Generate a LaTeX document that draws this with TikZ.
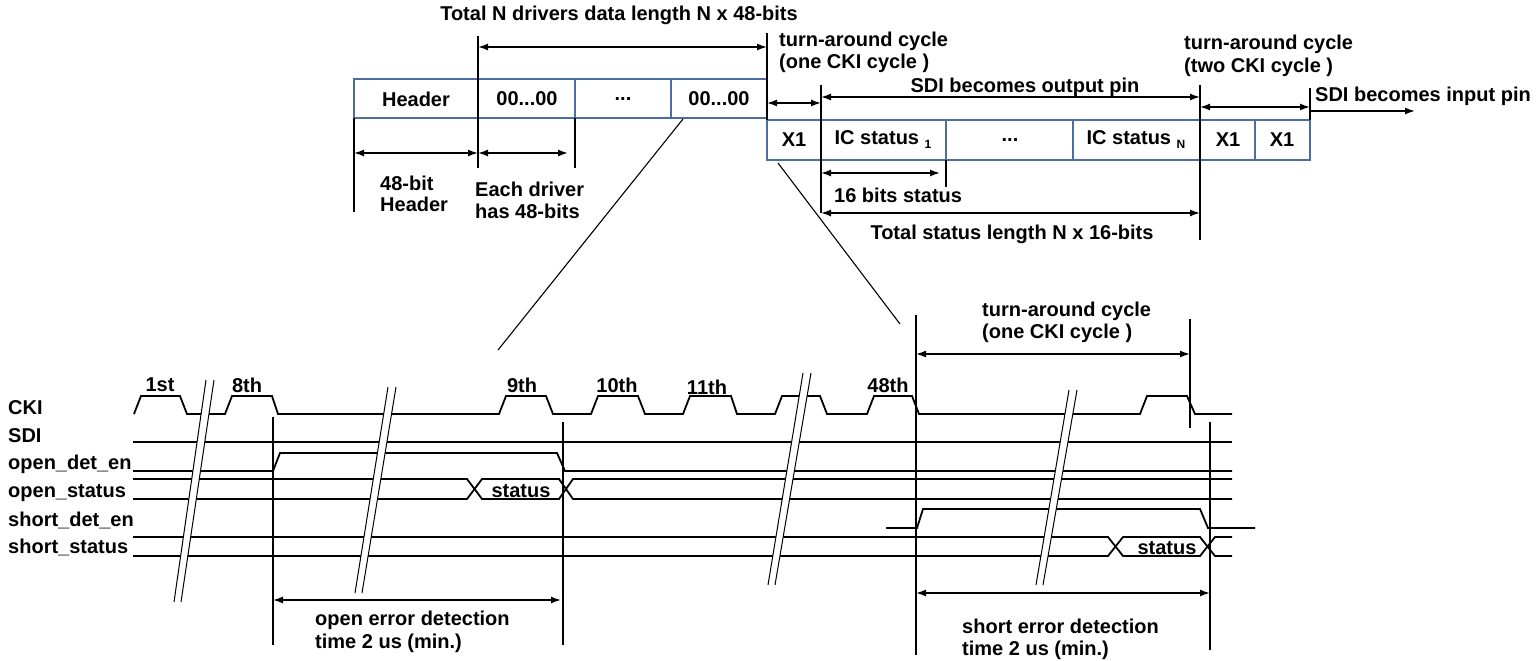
\documentclass[tikz,border=0pt]{standalone}
\usepackage{fontspec}
\setmainfont{Liberation Sans}
\usetikzlibrary{arrows.meta}
\definecolor{cellblue}{RGB}{74,110,160}
\tikzset{
  wire/.style={line width=1.8pt, line join=miter},
  vline/.style={line width=1.8pt},
  thinline/.style={line width=1.1pt},
  cellbox/.style={draw=cellblue, line width=1.3pt},
  dimarrow/.style={line width=1.5pt, {Latex[length=10pt,width=7pt]}-{Latex[length=10pt,width=7pt]}},
  onearrow/.style={line width=1.5pt, -{Latex[length=10pt,width=7pt]}},
  lbl/.style={font=\bfseries\fontsize{20}{22}\selectfont, inner sep=0pt},
  brkline/.style={line width=1pt},
}
\newcommand{\subsc}[1]{\raisebox{-4pt}{\fontsize{12}{12}\selectfont #1}}
\begin{document}
\begin{tikzpicture}[x=1pt,y=-1pt]
\useasboundingbox (0,0) rectangle (1540,661);

% ---------------- top frame ----------------
\node[lbl] (title) at (619,15) {Total N drivers data length N x 48-bits};

\draw[cellbox] (354,79) rectangle (478,118);
\draw[cellbox] (478,79) rectangle (575,118);
\draw[cellbox] (575,79) rectangle (671,118);
\draw[cellbox] (671,79) rectangle (767,118);
\node[lbl] (c1) at (416,99) {Header};
\node[lbl] (c2) at (527,99) {00...00};
\node[lbl] (c3) at (623,99) {...};
\node[lbl] (c4) at (719,99) {00...00};

\draw[cellbox] (767,120) rectangle (821,160);
\draw[cellbox] (821,120) rectangle (946,160);
\draw[cellbox] (946,120) rectangle (1073,160);
\draw[cellbox] (1073,120) rectangle (1200,160);
\draw[cellbox] (1200,120) rectangle (1255,160);
\draw[cellbox] (1255,120) rectangle (1310,160);
\node[lbl] (d1) at (794,140) {X1};
\node[lbl] (d2) at (883,140) {IC status \subsc{1}};
\node[lbl] (d3) at (1010,140) {...};
\node[lbl] (d4) at (1136,140) {IC status \subsc{N}};
\node[lbl] (d5) at (1228,140) {X1};
\node[lbl] (d6) at (1282,140) {X1};

% vertical guide lines (top)
\coordinate (v354a) at (354,118); \coordinate (v354b) at (354,212);
\coordinate (v478a) at (478,36);  \coordinate (v478b) at (478,168);
\coordinate (v575a) at (575,118); \coordinate (v575b) at (575,168);
\coordinate (v767a) at (767,33);  \coordinate (v767b) at (767,120);
\coordinate (v821a) at (821,85);  \coordinate (v821b) at (821,213);
\coordinate (v946a) at (946,160); \coordinate (v946b) at (946,187);
\coordinate (v1200a) at (1200,85); \coordinate (v1200b) at (1200,240);
\coordinate (v1310a) at (1310,88); \coordinate (v1310b) at (1310,120);
\foreach \a/\b in {v354a/v354b,v478a/v478b,v575a/v575b,v767a/v767b,v821a/v821b,v946a/v946b,v1200a/v1200b,v1310a/v1310b}
  \draw[vline] (\a) -- (\b);

% dimension arrows (top)
\coordinate (t1a) at (478,47);  \coordinate (t1b) at (767,47);
\coordinate (t2a) at (354,153); \coordinate (t2b) at (478,153);
\coordinate (t3a) at (478,153); \coordinate (t3b) at (568,153);
\coordinate (t4a) at (767,103); \coordinate (t4b) at (821,103);
\coordinate (t5a) at (821,97);  \coordinate (t5b) at (1200,97);
\coordinate (t6a) at (1200,107); \coordinate (t6b) at (1310,107);
\coordinate (t7a) at (1310,111); \coordinate (t7b) at (1415,111);
\coordinate (t8a) at (821,173); \coordinate (t8b) at (940,173);
\coordinate (t9a) at (821,213); \coordinate (t9b) at (1200,213);
\foreach \a/\b in {t1a/t1b,t2a/t2b,t3a/t3b,t4a/t4b,t5a/t5b,t6a/t6b,t8a/t8b,t9a/t9b}
  \draw[dimarrow] (\a) -- (\b);
\draw[onearrow] (t7a) -- (t7b);

% top labels
\node[lbl, anchor=west] (hb1) at (380,183) {48-bit};
\node[lbl, anchor=west] (hb2) at (380,204) {Header};
\node[lbl, anchor=west] (ed1) at (475,189) {Each driver};
\node[lbl, anchor=west] (ed2) at (475,211) {has 48-bits};
\node[lbl, anchor=west] (ta1) at (779,41) {turn-around cycle};
\node[lbl, anchor=west] (ta2) at (779,63) {(one CKI cycle )};
\node[lbl, anchor=west] (tb1) at (1184,44) {turn-around cycle};
\node[lbl, anchor=west] (tb2) at (1184,67) {(two CKI cycle )};
\node[lbl] (sdo) at (1025,87) {SDI becomes output pin};
\node[lbl, anchor=west] (sdi) at (1315,96) {SDI becomes input pin};
\node[lbl, anchor=west] (b16) at (834,195) {16 bits status};
\node[lbl] (tsl) at (1012,234) {Total status length N x 16-bits};

% zoom diagonals
\coordinate (za) at (683,119); \coordinate (zb) at (498,350);
\coordinate (zc) at (778,163); \coordinate (zd) at (900,324);
\draw[thinline] (za) -- (zb);
\draw[thinline] (zc) -- (zd);

% ---------------- waveforms ----------------
\node[lbl, anchor=base west] (lCKI) at (8,414) {CKI};
\node[lbl, anchor=base west] (lSDI) at (8,442) {SDI};
\node[lbl, anchor=base west] (lODE) at (8,469) {open\_det\_en};
\node[lbl, anchor=base west] (lOST) at (8,497) {open\_status};
\node[lbl, anchor=base west] (lSDE) at (8,526) {short\_det\_en};
\node[lbl, anchor=base west] (lSST) at (8,553) {short\_status};

\node[lbl] (p1) at (160,385) {1st};
\node[lbl] (p8) at (247,385) {8th};
\node[lbl] (p9) at (522,385) {9th};
\node[lbl] (p10) at (617,385) {10th};
\node[lbl] (p11) at (707,387) {11th};
\node[lbl] (p48) at (888,385) {48th};

% CKI
\draw[wire] (134,414) -- (141,396) -- (180,396) -- (187,414) -- (225,414) -- (232,396) -- (272,396) -- (278,414)
  -- (499,414) -- (506,396) -- (546,396) -- (553,414)
  -- (591,414) -- (598,396) -- (638,396) -- (645,414)
  -- (683,414) -- (690,396) -- (731,396) -- (737,414)
  -- (775,414) -- (782,396) -- (820,396) -- (827,414)
  -- (867,414) -- (874,396) -- (912,396) -- (919,414)
  -- (1140,414) -- (1147,396) -- (1187,396) -- (1195,414) -- (1232,414);
% SDI
\draw[wire] (133,442) -- (1232,442);
% open_det_en
\draw[wire] (133,471) -- (273,471) -- (280,453) -- (557,453) -- (565,471) -- (1232,471);
% open_status
\draw[wire] (133,479) -- (467,479) -- (482,499) -- (559,499) -- (573,479) -- (1232,479);
\draw[wire] (133,499) -- (467,499) -- (482,479) -- (559,479) -- (573,499) -- (1232,499);
\node[lbl] (os) at (521,491) {status};
% short_det_en
\draw[wire] (886,528) -- (917,528) -- (923,509) -- (1200,509) -- (1208,528) -- (1255,528);
% short_status
\draw[wire] (133,537) -- (1108,537) -- (1123,556) -- (1200,556) -- (1215,537) -- (1232,537);
\draw[wire] (133,556) -- (1108,556) -- (1123,537) -- (1200,537) -- (1215,556) -- (1232,556);
\node[lbl] (ss) at (1167,548) {status};

% break marks
\foreach \xa/\ya/\xb/\yb in {206/380/174/602, 388/387/355/593, 803/373/768/585, 1069/390/1036/585}{
  \fill[white] (\xa,\ya) -- ++(8,0) -- (\xb+7,\yb) -- (\xb,\yb) -- cycle;
  \draw[brkline] (\xa,\ya) -- (\xb,\yb);
  \draw[brkline] (\xa+8,\ya) -- (\xb+7,\yb);
}

% vertical lines (bottom)
\coordinate (w273a) at (273,417); \coordinate (w273b) at (273,645);
\coordinate (w563a) at (563,422); \coordinate (w563b) at (563,645);
\coordinate (w916a) at (916,315); \coordinate (w916b) at (916,655);
\coordinate (w1190a) at (1190,319); \coordinate (w1190b) at (1190,428);
\coordinate (w1210a) at (1210,422); \coordinate (w1210b) at (1210,650);
\foreach \a/\b in {w273a/w273b,w563a/w563b,w916a/w916b,w1190a/w1190b,w1210a/w1210b}
  \draw[vline] (\a) -- (\b);

% dimension arrows (bottom)
\coordinate (b1a) at (273,600); \coordinate (b1b) at (561,600);
\coordinate (b2a) at (916,354); \coordinate (b2b) at (1190,354);
\coordinate (b3a) at (916,593); \coordinate (b3b) at (1210,593);
\draw[dimarrow] (b1a) -- (b1b);
\draw[dimarrow] (b2a) -- (b2b);
\draw[dimarrow] (b3a) -- (b3b);

\node[lbl, anchor=base west] (oe1) at (315,625) {open error detection};
\node[lbl, anchor=base west] (oe2) at (315,648) {time 2 us (min.)};
\node[lbl, anchor=base west] (tc1) at (982,316) {turn-around cycle};
\node[lbl, anchor=base west] (tc2) at (982,338) {(one CKI cycle )};
\node[lbl, anchor=base west] (se1) at (962,633) {short error detection};
\node[lbl, anchor=base west] (se2) at (962,655) {time 2 us (min.)};
\end{tikzpicture}
\end{document}
